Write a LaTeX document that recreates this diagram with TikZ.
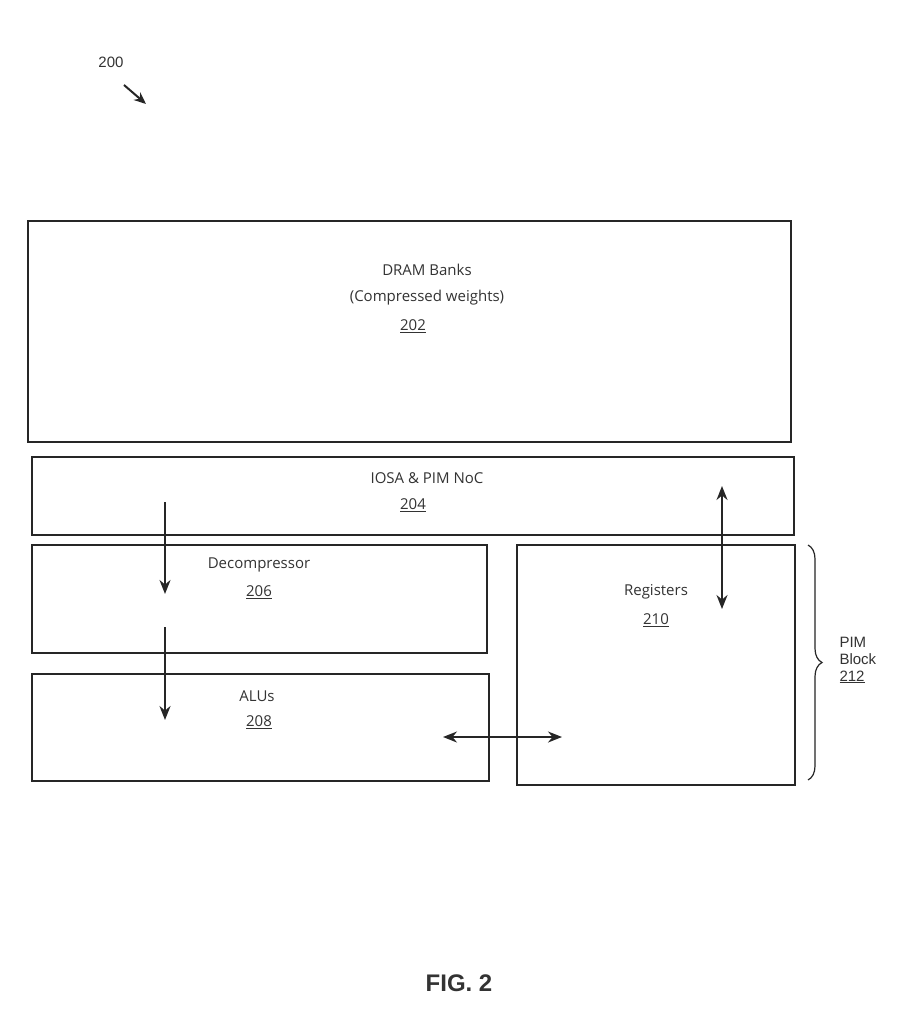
\documentclass[tikz,border=0pt]{standalone}
\usepackage{fontspec}
\setmainfont{Open Sans}
\newfontfamily\arialf{Liberation Sans}
\usetikzlibrary{arrows.meta,decorations.pathreplacing}
\begin{document}
\begin{tikzpicture}[x=1pt,y=-1pt,
  box/.style={draw=black!85,line width=1.4pt},
  lbl/.style={font=\fontsize{15}{18}\selectfont,text=black!80,inner sep=0pt},
  arr/.style={line width=1.8pt,draw=black!85,-{Stealth[length=14pt,width=11pt]}},
  darr/.style={line width=1.8pt,draw=black!85,{Stealth[length=14pt,width=11pt]}-{Stealth[length=14pt,width=11pt]}}]
\useasboundingbox (0,0) rectangle (918,1024);
\fill[white] (0,0) rectangle (918,1024);
\draw[box] (28,221) rectangle (791,442);
\draw[box] (32,457) rectangle (794,535);
\draw[box] (32,545) rectangle (487,653);
\draw[box] (32,674) rectangle (489,781);
\draw[box] (517,545) rectangle (795,785);
\node[lbl] (t202a) at (427,270) {DRAM Banks};
\node[lbl] (t202b) at (427,298) {(Compressed weights)};
\node[lbl] (t202) at (413,326) {\underline{202}};
\node[lbl] (t204a) at (427,478) {IOSA \& PIM NoC};
\node[lbl] (t204) at (413,505) {\underline{204}};
\node[lbl] (t206a) at (259,565) {Decompressor};
\node[lbl] (t206) at (259,592) {\underline{206}};
\node[lbl] (t208a) at (257,696) {ALUs};
\node[lbl] (t208) at (259,722) {\underline{208}};
\node[lbl] (t210a) at (656,592) {Registers};
\node[lbl] (t210) at (656,620) {\underline{210}};
\coordinate (a1) at (165,502); \coordinate (a2) at (165,594);
\coordinate (b1) at (165,627); \coordinate (b2) at (165,720);
\coordinate (c1) at (722,486); \coordinate (c2) at (722,609);
\coordinate (d1) at (443,737); \coordinate (d2) at (562,737);
\draw[arr] (a1) -- (a2);
\draw[arr] (b1) -- (b2);
\draw[darr] (c1) -- (c2);
\draw[darr] (d1) -- (d2);
\coordinate (br1) at (808,545); \coordinate (br2) at (808,780);
\draw[line width=1.2pt,black!85,decorate,decoration={brace,amplitude=14pt}] (br1) -- (br2);
\node[font=\arialf\fontsize{15}{17}\selectfont,align=left,anchor=west,text=black!80] (pim) at (836,660) {PIM\\Block\\\underline{212}};
\node[font=\arialf\fontsize{15}{17}\selectfont,text=black!80] (n200) at (111,62) {200};
\coordinate (e1) at (124,85); \coordinate (e2) at (146,104);
\draw[line width=2pt,black!85,-{Stealth[length=12pt,width=10pt]}] (e1) -- (e2);
\node[font=\arialf\bfseries\fontsize{24}{28}\selectfont,text=black!80] (fig) at (459,983) {FIG. 2};
\end{tikzpicture}
\end{document}
